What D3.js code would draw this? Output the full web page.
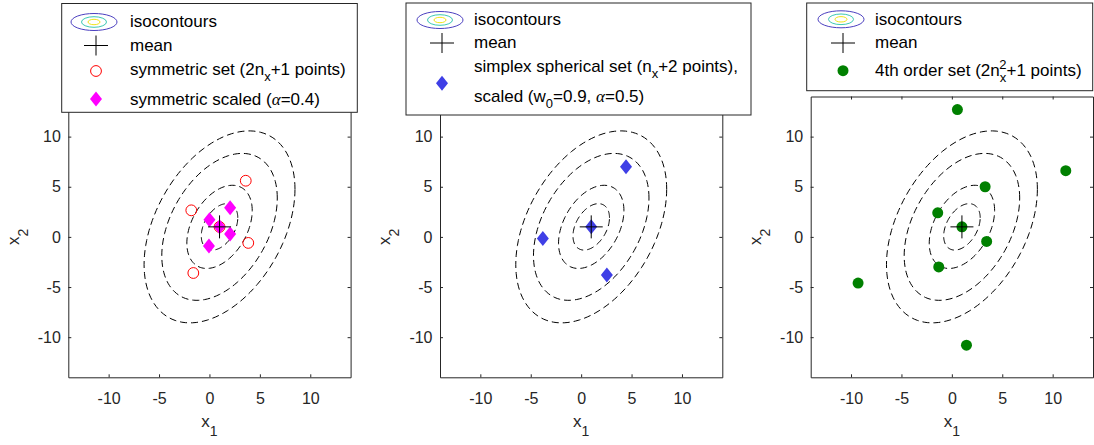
<!DOCTYPE html>
<html>
<head>
<meta charset="utf-8">
<script src="https://cdn.jsdelivr.net/npm/d3@7"></script>
<style>
  body { margin: 0; background: #fff; }
  svg { display: block; }
  text { font-family: "Liberation Sans", Arial, sans-serif; }
</style>
</head>
<body>
<svg id="chart" width="1094" height="445"></svg>
<script>
// Values
const axisLimits = [-14, 14];
const tickValues = [-10, -5, 0, 5, 10];
const meanPoint = [1, 1];
const covariance = [[7.3, 3.67], [3.67, 11.94]];
const contourLevels = [0.67, 1.2, 2.12, 2.77];

const symmetricSet = [[1, 1], [3.6, 5.6], [-1.8, 2.65], [3.85, -0.6], [-1.6, -3.6]];
const symmetricScaledSet = [[1, 1], [0, 1.7], [2.05, 2.9], [2.05, 0.3], [-0.05, -0.9]];
const simplexSet = [[1, 1], [4.45, 7.0], [-3.8, -0.15], [2.55, -3.8]];
const fourthOrderSet = [[1, 1], [0.55, 12.7], [11.3, 6.6], [3.3, 5.0], [-1.4, 2.4],
  [3.45, -0.45], [-1.3, -3.0], [-9.3, -4.6], [1.45, -10.8]];

const svg = d3.select('#chart');
const W = 282.3, H = 280.8, plotTop = 96.5;
const panelLefts = [68.3, 440, 810.7];
const axisColor = '#262626';

const diamond = 'M0,-7.5L6,0L0,7.5L-6,0Z';

// points on the isocontour x'S^-1x = level^2, via cholesky of covariance
function ellipsePoints(level) {
  let a = Math.sqrt(covariance[0][0]);
  let b = covariance[1][0] / a;
  let c = Math.sqrt(covariance[1][1] - b * b);
  return d3.range(0, 361, 3).map(deg => {
    let t = deg * Math.PI / 180;
    let u = level * Math.cos(t), v = level * Math.sin(t);
    return [meanPoint[0] + a * u, meanPoint[1] + b * u + c * v];
  });
}

function drawMarks(g, data, kind, x, y) {
  let sel = g.append('g').selectAll('path')
    .data(data)
    .join('path')
    .attr('transform', d => `translate(${x(d[0])},${y(d[1])})`);
  if (kind == 'circle') {
    sel.attr('d', d3.symbol(d3.symbolCircle, Math.PI * 5.4 * 5.4))
      .attr('fill', 'none').attr('stroke', '#ff0000').attr('stroke-width', 1);
  } else if (kind == 'magenta') {
    sel.attr('d', diamond).attr('fill', '#ff00ff');
  } else if (kind == 'blue') {
    sel.attr('d', diamond).attr('fill', '#3f3fe6');
  } else if (kind == 'dot') {
    sel.attr('d', d3.symbol(d3.symbolCircle, Math.PI * 5.5 * 5.5)).attr('fill', '#008000');
  }
}

function drawPanel(i, layers) {
  let left = panelLefts[i];
  let x = d3.scaleLinear().domain(axisLimits).range([left, left + W]);
  let y = d3.scaleLinear().domain(axisLimits).range([plotTop + H, plotTop]);
  let g = svg.append('g');

  let line = d3.line().x(d => x(d[0])).y(d => y(d[1]));
  g.append('g')
    .selectAll('path')
    .data(contourLevels)
    .join('path')
    .attr('d', d => line(ellipsePoints(d)))
    .attr('fill', 'none')
    .attr('stroke', '#000')
    .attr('stroke-width', 1)
    .attr('stroke-dasharray', '7,4');

  layers.forEach(l => drawMarks(g, l.data, l.kind, x, y));

  // mean cross
  let cx = x(meanPoint[0]), cy = y(meanPoint[1]);
  g.append('path')
    .attr('d', `M${cx - 11.5},${cy}H${cx + 11.5}M${cx},${cy - 11.5}V${cy + 11.5}`)
    .attr('stroke', '#000').attr('stroke-width', 1);

  // axes, ticks pointing inward
  let fmt = d => String(d);
  let styleAxis = a => {
    a.selectAll('path.domain').attr('stroke', axisColor);
    a.selectAll('.tick line').attr('stroke', axisColor);
    a.selectAll('.tick text').attr('fill', axisColor)
      .attr('font-family', '"Liberation Sans", Arial, sans-serif').attr('font-size', 16);
  };
  g.append('g').attr('transform', `translate(0,${plotTop + H})`)
    .call(d3.axisBottom(x).tickValues(tickValues).tickFormat(fmt).tickSizeInner(-3).tickSizeOuter(0).tickPadding(15))
    .call(styleAxis);
  g.append('g').attr('transform', `translate(${left},0)`)
    .call(d3.axisLeft(y).tickValues(tickValues).tickFormat(fmt).tickSizeInner(-3).tickSizeOuter(0).tickPadding(7.5))
    .call(styleAxis);
  g.append('g').attr('transform', `translate(0,${plotTop})`)
    .call(d3.axisTop(x).tickValues(tickValues).tickSizeInner(-3).tickSizeOuter(0).tickFormat(''))
    .call(styleAxis);
  g.append('g').attr('transform', `translate(${left + W},0)`)
    .call(d3.axisRight(y).tickValues(tickValues).tickSizeInner(-3).tickSizeOuter(0).tickFormat(''))
    .call(styleAxis);

  // axis labels
  let xl = g.append('text')
    .attr('x', left + W / 2).attr('y', 427)
    .attr('text-anchor', 'middle').attr('font-size', 17).attr('fill', axisColor);
  xl.append('tspan').text('x');
  xl.append('tspan').attr('dy', 9).attr('font-size', 14).text('1');
  let yl = g.append('text')
    .attr('transform', `translate(${left - 49.8},${plotTop + H / 2}) rotate(-90)`)
    .attr('text-anchor', 'middle').attr('font-size', 17).attr('fill', axisColor);
  yl.append('tspan').text('x');
  yl.append('tspan').attr('dy', 9).attr('font-size', 14).text('2');
}

function writeText(g, tx, base, segs) {
  let t = g.append('text').attr('x', tx).attr('y', base).attr('font-size', 17).attr('fill', '#000');
  let shift = 0;
  segs.forEach(s => {
    let sh = s.sub ? 6 : s.sup ? -7 : 0;
    let sp = t.append('tspan').attr('dy', sh - shift).text(s.t);
    if (s.dx) sp.attr('dx', s.dx);
    if (sh != 0) sp.attr('font-size', 13);
    if (s.greek) sp.attr('font-family', '"Liberation Serif", serif').attr('font-style', 'italic');
    shift = sh;
  });
}

function drawLegend(box, ix, tx, rows) {
  let g = svg.append('g');
  g.append('rect')
    .attr('x', box[0]).attr('y', box[1]).attr('width', box[2]).attr('height', box[3])
    .attr('fill', '#fff').attr('stroke', axisColor).attr('stroke-width', 1);
  rows.forEach(r => {
    if (r.kind == 'contour') {
      [[23, 8.5, '#4b3fc0'], [12.5, 5.3, '#3cc8b4'], [6, 2.7, '#f0e41c']].forEach(e => {
        g.append('ellipse').attr('cx', ix - 2).attr('cy', r.cy).attr('rx', e[0]).attr('ry', e[1])
          .attr('fill', 'none').attr('stroke', e[2]).attr('stroke-width', 1);
      });
    } else if (r.kind == 'mean') {
      g.append('path')
        .attr('d', `M${ix - 12},${r.cy}H${ix + 12}M${ix},${r.cy - 10}V${r.cy + 10}`)
        .attr('stroke', '#000').attr('stroke-width', 1);
    } else {
      drawMarks(g, [[0, 0]], r.kind, () => ix, () => r.cy);
    }
    r.lines.forEach(l => writeText(g, tx, l.base, l.segs));
  });
}

drawPanel(0, [{data: symmetricSet, kind: 'circle'}, {data: symmetricScaledSet, kind: 'magenta'}]);
drawPanel(1, [{data: simplexSet, kind: 'blue'}]);
drawPanel(2, [{data: fourthOrderSet, kind: 'dot'}]);

drawLegend([61.7, 3.5, 295.6, 108.8], 96, 130, [
  {kind: 'contour', cy: 22, lines: [{base: 27.3, segs: [{t: 'isocontours'}]}]},
  {kind: 'mean', cy: 45.5, lines: [{base: 50.7, segs: [{t: 'mean'}]}]},
  {kind: 'circle', cy: 71, lines: [{base: 74.5, segs: [{t: 'symmetric set (2n'}, {t: 'x', sub: true}, {t: '+1 points)'}]}]},
  {kind: 'magenta', cy: 99, lines: [{base: 104.5, segs: [{t: 'symmetric scaled ('}, {t: 'α', greek: true}, {t: '=0.4)'}]}]}
]);
drawLegend([406, 3, 345, 112], 442, 474, [
  {kind: 'contour', cy: 20, lines: [{base: 25, segs: [{t: 'isocontours'}]}]},
  {kind: 'mean', cy: 43, lines: [{base: 48.3, segs: [{t: 'mean'}]}]},
  {kind: 'blue', cy: 83.3, lines: [
    {base: 71.7, segs: [{t: 'simplex spherical set (n'}, {t: 'x', sub: true}, {t: '+2 points),'}]},
    {base: 101.7, segs: [{t: 'scaled (w'}, {t: '0', sub: true}, {t: '=0.9, '}, {t: 'α', greek: true}, {t: '=0.5)'}]}
  ]}
]);
drawLegend([806.7, 3, 286, 87.7], 843, 875, [
  {kind: 'contour', cy: 19.3, lines: [{base: 25, segs: [{t: 'isocontours'}]}]},
  {kind: 'mean', cy: 43, lines: [{base: 48.3, segs: [{t: 'mean'}]}]},
  {kind: 'dot', cy: 70.7, lines: [{base: 76, segs: [{t: '4th order set (2n'}, {t: 'x', sub: true}, {t: '2', sup: true, dx: -7}, {t: '+1 points)'}]}]}
]);
</script>
</body>
</html>
